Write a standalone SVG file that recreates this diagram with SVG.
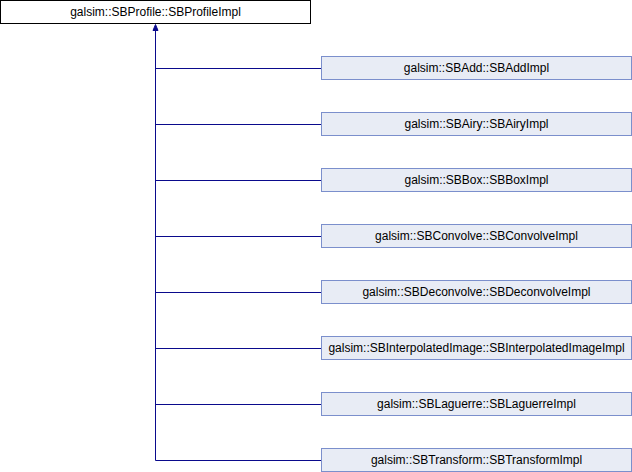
<svg xmlns="http://www.w3.org/2000/svg" width="632" height="472" viewBox="0 0 632 472">
<style>
.bg{fill:#ffffff}
.root rect{fill:#ffffff;stroke:#000000;stroke-width:1}
.child rect{fill:#e8ecf5;stroke:#7b8fcc;stroke-width:1}
text{font-family:"Liberation Sans",Arial,sans-serif;font-size:12px;fill:#000000;text-anchor:middle}
.edge{stroke:#0a0a8c;stroke-width:1;fill:none}
.ah{fill:#0a0a8c;stroke:#0a0a8c;stroke-width:1}
</style>
<rect class="bg" x="0" y="0" width="632" height="472"/>
<g id="connectors">
<path class="edge" d="M155.5,30 V460.5"/>
<path class="edge" d="M155.5,68.5 H321"/>
<path class="edge" d="M155.5,124.5 H321"/>
<path class="edge" d="M155.5,180.5 H321"/>
<path class="edge" d="M155.5,236.5 H321"/>
<path class="edge" d="M155.5,292.5 H321"/>
<path class="edge" d="M155.5,348.5 H321"/>
<path class="edge" d="M155.5,404.5 H321"/>
<path class="edge" d="M155.5,460.5 H321"/>
<polygon class="ah" points="155.5,24.5 153,30.5 158,30.5"/>
</g>
<g id="n0" class="root"><rect x="0.5" y="0.5" width="310" height="23"/><text x="155.5" y="16">galsim::SBProfile::SBProfileImpl</text></g>
<g id="n1" class="child"><rect x="321.5" y="56.5" width="310" height="23"/><text x="476.5" y="72">galsim::SBAdd::SBAddImpl</text></g>
<g id="n2" class="child"><rect x="321.5" y="112.5" width="310" height="23"/><text x="476.5" y="128">galsim::SBAiry::SBAiryImpl</text></g>
<g id="n3" class="child"><rect x="321.5" y="168.5" width="310" height="23"/><text x="476.5" y="184">galsim::SBBox::SBBoxImpl</text></g>
<g id="n4" class="child"><rect x="321.5" y="224.5" width="310" height="23"/><text x="476.5" y="240">galsim::SBConvolve::SBConvolveImpl</text></g>
<g id="n5" class="child"><rect x="321.5" y="280.5" width="310" height="23"/><text x="476.5" y="296">galsim::SBDeconvolve::SBDeconvolveImpl</text></g>
<g id="n6" class="child"><rect x="321.5" y="336.5" width="310" height="23"/><text x="476.5" y="352">galsim::SBInterpolatedImage::SBInterpolatedImageImpl</text></g>
<g id="n7" class="child"><rect x="321.5" y="392.5" width="310" height="23"/><text x="476.5" y="408">galsim::SBLaguerre::SBLaguerreImpl</text></g>
<g id="n8" class="child"><rect x="321.5" y="448.5" width="310" height="23"/><text x="476.5" y="464">galsim::SBTransform::SBTransformImpl</text></g>
</svg>
